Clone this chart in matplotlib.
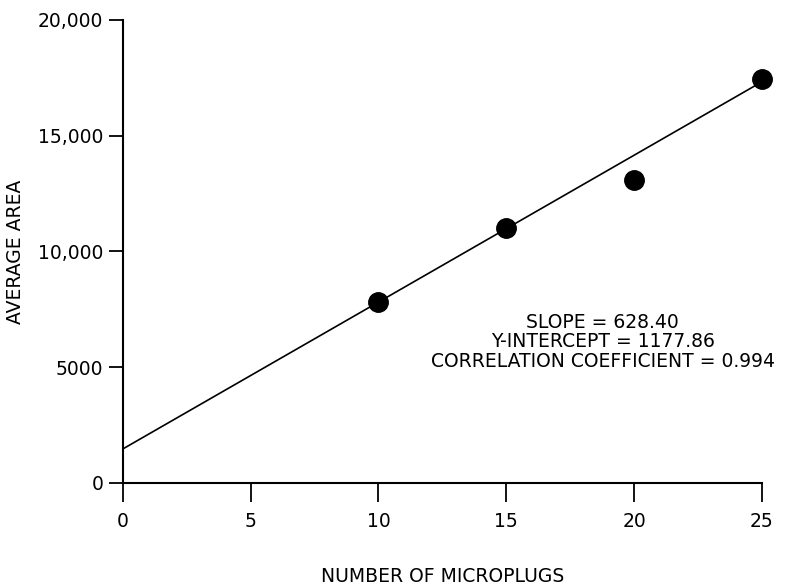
import numpy as np
import matplotlib.pyplot as plt

# data
plugs = [10, 15, 20, 25]
avg_area = [7800, 11000, 13100, 17450]

# fitted line as drawn
fit_x = [0, 25]
fit_y = [1460, 17330]

x_ticks = [0, 5, 10, 15, 20, 25]
y_ticks = [0, 5000, 10000, 15000, 20000]
y_tick_labels = ['0', '5000', '10,000', '15,000', '20,000']

stats_text = 'SLOPE = 628.40\nY-INTERCEPT = 1177.86\nCORRELATION COEFFICIENT = 0.994'

plt.rcParams['font.family'] = 'DejaVu Sans'
fig = plt.figure(figsize=(8.08, 5.88), dpi=100)
ax = fig.add_axes([0.152, 0.179, 0.791, 0.787])

ax.plot(fit_x, fit_y, color='black', linewidth=1.2)
ax.plot(plugs, avg_area, 'o', color='black', markersize=14, clip_on=False)

ax.set_xlim(0, 25)
ax.set_ylim(0, 20000)
ax.set_xticks(x_ticks)
ax.set_yticks(y_ticks)
ax.set_yticklabels(y_tick_labels)

for s in ['top', 'right']:
    ax.spines[s].set_visible(False)
for s in ['left', 'bottom']:
    ax.spines[s].set_linewidth(1.5)

ax.tick_params(axis='x', direction='out', length=14, width=1.3, pad=7, labelsize=13.5)
ax.tick_params(axis='y', direction='out', length=10, width=1.3, pad=4, labelsize=13.5)

ax.set_xlabel('NUMBER OF MICROPLUGS', fontsize=13.5, labelpad=26)
ax.set_ylabel('AVERAGE AREA', fontsize=13.5, labelpad=9)

ax.text(0.751, 0.305, stats_text, transform=ax.transAxes, ha='center', va='center',
        fontsize=13.5, linespacing=1.03, multialignment='center')

fig.savefig('out.png', dpi=100)
